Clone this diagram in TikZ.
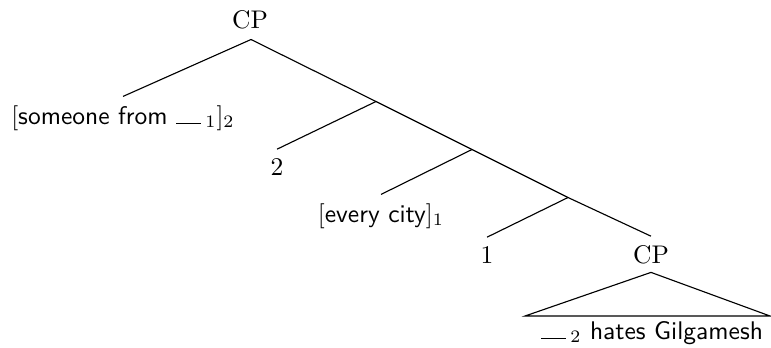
\documentclass[tikz,border=0pt]{standalone}
\usepackage{fontspec}
\begin{document}
\begin{tikzpicture}[x=0.4pt,y=-0.4pt,
  lab/.style={anchor=base,inner sep=3.33pt,font=\fontsize{10.2}{12.3}\selectfont},
  edge/.style={draw=black,line width=0.45pt}]
\useasboundingbox (0,0) rectangle (771,347);
\newcommand{\gapline}{\rule[0pt]{10pt}{0.45pt}\,}
% nodes
\node[lab] (cp) at (250,28) {CP};
\node[lab] (so) at (123,124) {$[$\textsf{someone from} \gapline$_1]_2$};
\node[lab] (two) at (277,175) {2};
\node[lab] (ev) at (381,222) {$[$\textsf{every city}$]_1$};
\node[lab] (one) at (487,263) {1};
\node[lab] (cp2) at (651,263) {CP};
\node[lab] (hg) at (652,339) {\gapline$_2$ \textsf{hates Gilgamesh}};
% junctions
\coordinate (top) at (251,39.5);
\coordinate (j1) at (376,101.5);
\coordinate (j2) at (472,149.5);
\coordinate (j3) at (568,197.5);
\coordinate (bl) at (525,316);
\coordinate (br) at (770,316);
% edges
\draw[edge] (top) -- (so.north);
\draw[edge] (top) -- (j1) -- (j2) -- (j3) -- (cp2.north);
\draw[edge] (j1) -- (two.north);
\draw[edge] (j2) -- (ev.north);
\draw[edge] (j3) -- (one.north);
\draw[edge] (cp2.south) -- (bl) -- (br) -- cycle;
\end{tikzpicture}
\end{document}
